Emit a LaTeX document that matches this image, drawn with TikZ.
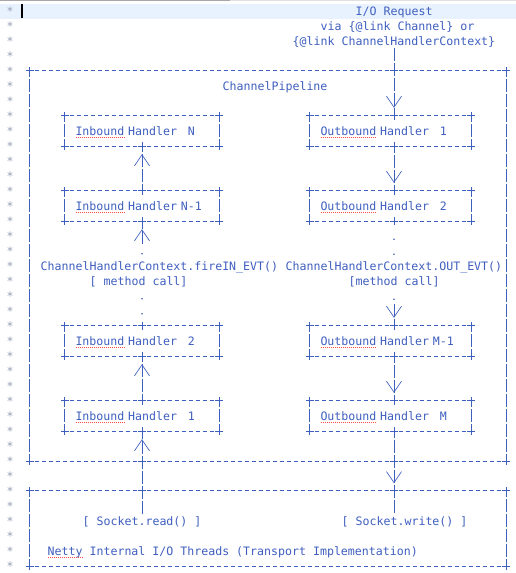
\documentclass[tikz,border=0pt]{standalone}
\usepackage{fontspec}
\setmonofont{DejaVu Sans Mono}
\usetikzlibrary{arrows.meta,shapes.misc,decorations.markings}
\definecolor{jdoc}{RGB}{63,95,191}
\definecolor{star}{RGB}{150,160,182}
\definecolor{curline}{RGB}{232,242,254}
\newcommand\gapch{\phantom{0}}
\begin{document}
\begin{tikzpicture}[x=1pt, y=-1pt,
    every node/.style={font=\ttfamily\fontsize{11.6pt}{15pt}\selectfont, text=jdoc,
      inner sep=0pt, text height=10.5pt, text depth=2.5pt},
    txt/.style={anchor=base west},
    inbox/.style={minimum width=154pt, minimum height=30pt, text width=133pt, inner xsep=10.5pt, align=left},
    outbox/.style={minimum width=161pt, minimum height=30pt, text width=140pt, inner xsep=10.5pt, align=left},
    frame/.style={minimum width=476pt},
    hdash/.style={draw=jdoc, line width=0.65pt, dash pattern=on 4.5pt off 2.5pt, dash phase=2.25pt},
    vdash/.style={draw=jdoc, line width=0.65pt, dash pattern=on 13pt off 2pt, dash phase=6.5pt},
    dotl/.style={draw=jdoc, line width=1.8pt, line cap=round, dash pattern=on 0pt off 15pt},
    pl/.style={draw=jdoc, cross out, rotate=45, minimum size=4.6pt, line width=0.65pt,
      text height=0pt, text depth=0pt},
    ar/.style={postaction={decorate, decoration={markings,
      mark=at position #1 with {\arrow{Straight Barb[length=11pt, width=15pt]}}}}},
    squig/.style={draw=red!70, line width=0.6pt, dash pattern=on 1pt off 1pt}
  ]
  \useasboundingbox (0,0) rectangle (516,573);
  \fill[white] (0,0) rectangle (516,573);
  % editor line, cursor, gutter
  \fill[curline] (0,3.5) rectangle (516,18.5);
  \draw[gray!70, line width=1pt] (0,0.5) -- (230,0.5);
  \draw[gray!25, line width=1pt] (230,0.5) -- (516,0.5);
  \draw[black, line width=1.6pt] (22,4) -- (22,18);
  \foreach \r in {0,...,37}
    \node[anchor=base, text=star] (s\r) at (10, {15+15*\r}) {*};

  \coordinate (inx) at (142,0);
  \coordinate (outx) at (394,0);

  % request
  \node[txt] (req1) at (355.5,15) {I/O Request};
  \node[txt] (req2) at (320.5,30) {via \{@link Channel\} or};
  \node[txt] (req3) at (292.5,45) {\{@link ChannelHandlerContext\}};

  % frames
  \node[frame, minimum height=390pt] (pipe) at (268,266) {};
  \node[frame, minimum height=75pt] (io) at (268,528.5) {};
  \node[txt] (cp) at (222.5,90) {ChannelPipeline};

  % handlers
  \node[inbox] (inN)  at (142,131) {Inbound Handler \gapch N};
  \node[inbox] (inNa) at (142,206) {Inbound Handler N-1};
  \node[inbox] (in2)  at (142,341) {Inbound Handler \gapch 2};
  \node[inbox] (in1)  at (142,416) {Inbound Handler \gapch 1};
  \node[outbox] (out1)  at (390.5,131) {Outbound Handler \gapch 1};
  \node[outbox] (out2)  at (390.5,206) {Outbound Handler \gapch 2};
  \node[outbox] (outMa) at (390.5,341) {Outbound Handler M-1};
  \node[outbox] (outM)  at (390.5,416) {Outbound Handler \gapch M};

  % method calls
  \node[txt] (fire) at (40.5,270) {ChannelHandlerContext.fireIN\_EVT()};
  \node[txt] (oevt) at (285.5,270) {ChannelHandlerContext.OUT\_EVT()};
  \node[txt] (mc1) at (89.5,285) {[ method call]};
  \node[txt] (mc2) at (348.5,285) {[method call]};

  % transport
  \node[txt] (rd) at (82.5,525) {[ Socket.read() ]};
  \node[txt] (wr) at (341.5,525) {[ Socket.write() ]};
  \node[txt] (netty) at (47.5,555) {Netty Internal I/O Threads (Transport Implementation)};

  \coordinate (fa) at (142,243.5);
  \coordinate (fb) at (394,303.5);

  % borders
  \foreach \b in {inN,inNa,in2,in1,out1,out2,outMa,outM,pipe,io}{
    \draw[hdash] (\b.north west) -- (\b.north east) (\b.south west) -- (\b.south east);
    \draw[vdash] (\b.north west) -- (\b.south west) (\b.north east) -- (\b.south east);
    \foreach \a in {north west,north east,south west,south east}
      \node[pl] at (\b.\a) {};
  }

  % inbound
  \draw[vdash, dash phase=0pt, ar=-8pt] (rd.north -| inx) -- (in1.south);
  \draw[vdash, ar=-8pt] (in1.north) -- (in2.south);
  \draw[dotl, shorten <=12pt] (in2.north) -- (mc1.south -| inx);
  \draw[dotl, shorten <=5.5pt] (fire.north -| inx) -- (fa);
  \draw[vdash, dash phase=0pt, ar=-8pt] (fa) -- (inNa.south);
  \draw[vdash, ar=-8pt] (inNa.north) -- (inN.south);

  % outbound
  \draw[vdash, dash phase=0pt, ar=-8pt] (req3.south -| outx) -- (out1.north -| outx);
  \draw[vdash, ar=-8pt] (out1.south -| outx) -- (out2.north -| outx);
  \draw[dotl, shorten <=18pt] (out2.south -| outx) -- (oevt.north -| outx);
  \draw[dotl, shorten <=11.5pt] (mc2.south -| outx) -- (fb);
  \draw[vdash, dash phase=0pt, ar=-8pt] (fb) -- (outMa.north -| outx);
  \draw[vdash, ar=-8pt] (outMa.south -| outx) -- (outM.north -| outx);
  \draw[vdash, ar=52pt] (outM.south -| outx) -- (wr.north -| outx);

  % junctions
  \foreach \p in {inN.south,inNa.north,inNa.south,in2.north,in2.south,in1.north,in1.south,pipe.south,io.north}
    \node[pl] at (\p -| inx) {};
  \foreach \p in {out1.north,out1.south,out2.north,out2.south,outMa.north,outMa.south,outM.north,outM.south,pipe.north,pipe.south,io.north}
    \node[pl] at (\p -| outx) {};

  % spelling marks
  \foreach \r in {8,13,22,27}{
    \draw[squig] (75.5,{17.5+15*\r}) -- ++(49,0);
    \draw[squig] (320.5,{17.5+15*\r}) -- ++(56,0);
  }
  \draw[squig] (47.5,557.5) -- ++(35,0);
\end{tikzpicture}
\end{document}
